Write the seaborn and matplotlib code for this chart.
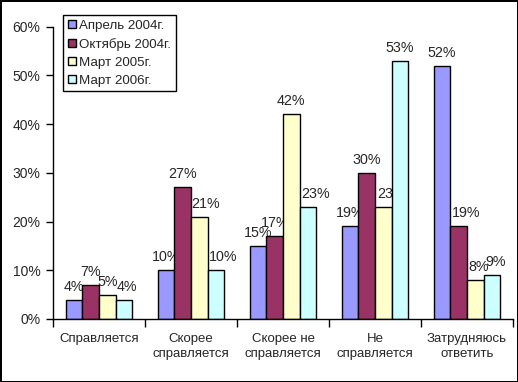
import matplotlib
matplotlib.use("Agg")
import matplotlib.pyplot as plt
import seaborn as sns
import pandas as pd
import numpy as np

# data
categories = ["Справляется", "Скорее\nсправляется", "Скорее не\nсправляется",
              "Не\nсправляется", "Затрудняюсь\nответить"]
series = ["Апрель 2004г.", "Октябрь 2004г.", "Март 2005г.", "Март 2006г."]
apr_2004 = [4, 10, 15, 19, 52]
oct_2004 = [7, 27, 17, 30, 19]
mar_2005 = [5, 21, 42, 23, 8]
mar_2006 = [4, 10, 23, 53, 9]
colors = ["#9999FF", "#993366", "#FFFFCC", "#CCFFFF"]

rows = []
for name, vals in zip(series, [apr_2004, oct_2004, mar_2005, mar_2006]):
    for cat, v in zip(categories, vals):
        rows.append({"cat": cat, "series": name, "value": v})
df = pd.DataFrame(rows)

sns.set_style("white")
plt.rcParams["font.family"] = ["Liberation Sans", "DejaVu Sans"]
fs = 10

fig = plt.figure(figsize=(5.18, 3.82), dpi=100, linewidth=2, edgecolor="black")
ax = fig.add_axes([53 / 518, 1 - 319 / 382, 460 / 518, (319 - 26.7) / 382])

sns.barplot(data=df, x="cat", y="value", hue="series", order=categories,
            hue_order=series, palette=colors, width=0.72, edgecolor="black",
            linewidth=1, saturation=1, ax=ax)

# labels nudged sideways like the Excel original (pixels), by (series, category)
nudge = {(3, 0): 3, (2, 1): 6, (3, 1): 7, (3, 2): 8, (2, 3): 8,
         (1, 4): 7, (2, 4): 3, (3, 4): 4}
for si, cont in enumerate(ax.containers):
    for ci, bar in enumerate(cont):
        h = bar.get_height()
        xc = bar.get_x() + bar.get_width() / 2
        dx = nudge.get((si, ci), 0) * 72 / 100
        ax.annotate(f"{h:g}%", (xc, h), xytext=(dx, 13 * 72 / 100),
                    textcoords="offset points", ha="center", va="center",
                    fontsize=10.3, zorder=0.5)

ax.set_ylim(0, 60)
ax.set_xlim(-0.5, 4.5)
ax.set_yticks(np.arange(0, 61, 10))
ax.set_yticklabels([f"{v}%" for v in range(0, 61, 10)], fontsize=fs)
ax.set_xticks(np.arange(-0.5, 5, 1))
ax.set_xticklabels([])
ax.set_xticks(np.arange(5), minor=True)
ax.set_xticklabels(categories, minor=True, fontsize=9.5, linespacing=1.35)
ax.tick_params(axis="x", which="major", length=6, width=1, color="black",
               direction="out", bottom=True)
ax.tick_params(axis="x", which="minor", length=0, pad=10)
ax.tick_params(axis="y", length=5, width=1, color="black", direction="out",
               left=True, pad=4)
ax.set_xlabel("")
ax.set_ylabel("")

for s in ["top", "right"]:
    ax.spines[s].set_visible(False)
for s in ["left", "bottom"]:
    ax.spines[s].set_color("black")
    ax.spines[s].set_linewidth(1)

leg = ax.legend(loc="upper left", bbox_to_anchor=(0.022, 1.04), fontsize=9.6,
                frameon=True, fancybox=False, edgecolor="black", framealpha=1,
                handlelength=0.6, handleheight=0.6, handletextpad=0.25,
                labelspacing=0.45, borderpad=0.35, borderaxespad=0)
leg.get_frame().set_linewidth(1)

fig.savefig("out.png", dpi=100)
